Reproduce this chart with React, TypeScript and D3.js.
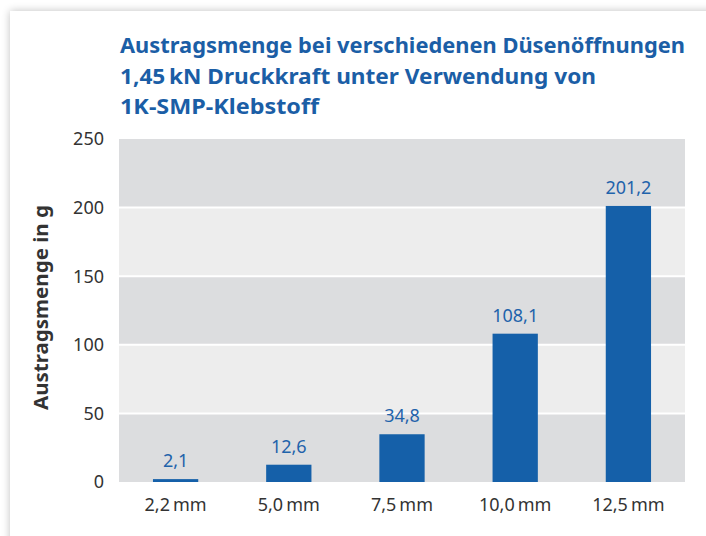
import React from 'react';
import * as d3 from 'd3';

const categories = ['2,2\u2009mm', '5,0\u2009mm', '7,5\u2009mm', '10,0\u2009mm', '12,5\u2009mm'];
const values = [2.1, 12.6, 34.8, 108.1, 201.2];
const valueLabels = ['2,1', '12,6', '34,8', '108,1', '201,2'];
const yTicks = [0, 50, 100, 150, 200, 250];
const titleLines = [
  'Austragsmenge bei verschiedenen Düsenöffnungen',
  '1,45\u2009kN Druckkraft unter Verwendung von',
  '1K-SMP-Klebstoff',
];
const titleWidths = [565, 476, 199];
const yTitle = 'Austragsmenge in g';

const W = 706;
const H = 536;
const plot = { left: 119, right: 685, top: 139, bottom: 482 };

const BAR = '#1560a9';
const LABEL = '#1f63ab';
const TITLE = '#1b5ea6';
const DARK = '#dcdddf';
const LIGHT = '#ededed';
const TEXT = '#333333';
const FONT = "'Noto Sans', sans-serif";

export default function App() {
  const x = d3.scaleBand().domain(categories).range([plot.left, plot.right]).paddingInner(0.6).paddingOuter(0.3);
  const y = d3.scaleLinear().domain([0, 250]).range([plot.bottom, plot.top]);

  const bands = d3.pairs(yTicks);

  return (
    <svg width={W} height={H} style={{ position: 'absolute', left: 0, top: 0, background: '#fff' }}>
      <defs>
        <filter id="shadow" x="-5%" y="-5%" width="110%" height="110%">
          <feGaussianBlur in="SourceAlpha" stdDeviation="4" />
          <feComponentTransfer>
            <feFuncA type="linear" slope="0.25" />
          </feComponentTransfer>
          <feMerge>
            <feMergeNode />
            <feMergeNode in="SourceGraphic" />
          </feMerge>
        </filter>
      </defs>
      <rect x={10} y={11} width={W + 20} height={H + 20} fill="#fff" filter="url(#shadow)" />

      {titleLines.map((t, i) => (
        <text
          key={i}
          x={120}
          y={53 + i * 30.5}
          fill={TITLE}
          fontFamily={FONT}
          fontWeight={700}
          fontSize={22}
          textLength={titleWidths[i]}
          lengthAdjust="spacingAndGlyphs"
        >
          {t}
        </text>
      ))}

      {bands.map(([a, b], i) => (
        <rect
          key={i}
          x={plot.left}
          y={y(b)}
          width={plot.right - plot.left}
          height={y(a) - y(b)}
          fill={i % 2 === 0 ? DARK : LIGHT}
        />
      ))}
      {yTicks.slice(1, -1).map((t) => (
        <line key={t} x1={plot.left} x2={plot.right} y1={y(t)} y2={y(t)} stroke="#fff" strokeWidth={2} />
      ))}

      {yTicks.map((t) => (
        <text
          key={t}
          x={104}
          y={y(t)}
          dy="0.36em"
          textAnchor="end"
          fill={TEXT}
          fontFamily={FONT}
          fontSize={18}
        >
          {t}
        </text>
      ))}

      {categories.map((c, i) => (
        <g key={c}>
          <rect x={x(c)} y={y(values[i])} width={x.bandwidth()} height={y(0) - y(values[i])} fill={BAR} />
          <text
            x={x(c) + x.bandwidth() / 2}
            y={y(values[i]) - 12}
            textAnchor="middle"
            fill={LABEL}
            fontFamily={FONT}
            fontSize={18}
          >
            {valueLabels[i]}
          </text>
          <text
            x={x(c) + x.bandwidth() / 2}
            y={511}
            textAnchor="middle"
            fill={TEXT}
            fontFamily={FONT}
            fontSize={18}
          >
            {c}
          </text>
        </g>
      ))}

      <text
        transform={`translate(48,${(plot.top + plot.bottom) / 2 - 3}) rotate(-90)`}
        textAnchor="middle"
        fill={TEXT}
        fontFamily={FONT}
        fontWeight={700}
        fontSize={19}
        textLength={205}
        lengthAdjust="spacingAndGlyphs"
      >
        {yTitle}
      </text>
    </svg>
  );
}
